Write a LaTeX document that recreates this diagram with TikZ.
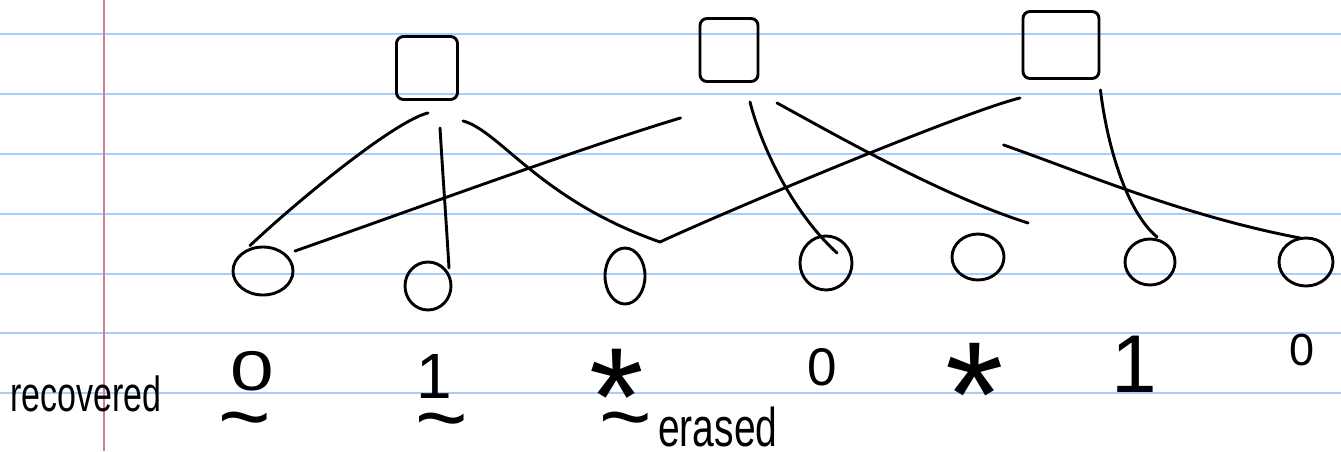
\documentclass[tikz,border=0pt]{standalone}
\usepackage{fontspec}
\setmainfont{Liberation Sans}
\usepackage{graphicx}
\usetikzlibrary{shapes.geometric,calc}
\definecolor{ruleblue}{RGB}{166,206,250}
\definecolor{marginred}{RGB}{214,122,152}
\tikzset{
  ink/.style={line width=2.9pt, line cap=round, line join=round, draw=black},
  sq/.style={ink, rectangle, rounded corners=7pt, inner sep=0pt},
  bit/.style={ink, ellipse, inner sep=0pt},
  lbl/.style={inner sep=0pt, anchor=base, text=black},
  ruled/.style={draw=ruleblue, line width=2pt},
}
\begin{document}
\begin{tikzpicture}[x=1pt,y=-1pt]
\useasboundingbox (0,0) rectangle (1341,451);
\fill[white] (0,0) rectangle (1341,451);
\foreach \yy in {34,94,154,214,274,333,393} \draw[ruled] (0,\yy) -- (1341,\yy);
\draw[marginred, line width=1.6pt] (104,0) -- (104,451);

% check nodes
\node[sq, minimum width=61pt, minimum height=63pt] (s1) at (427,68) {};
\node[sq, minimum width=58pt, minimum height=63pt] (s2) at (729,50) {};
\node[sq, minimum width=76pt, minimum height=67pt] (s3) at (1061,45) {};

% bit nodes
\node[bit, minimum width=60pt, minimum height=48pt] (c1) at (263,271) {};
\node[bit, minimum width=46pt, minimum height=48pt] (c2) at (428,286) {};
\node[bit, minimum width=40pt, minimum height=56pt] (c3) at (625,276) {};
\node[bit, minimum width=52pt, minimum height=54pt] (c4) at (826,263) {};
\node[bit, minimum width=52pt, minimum height=46pt] (c5) at (978,257) {};
\node[bit, minimum width=50pt, minimum height=46pt] (c6) at (1150,262) {};
\node[bit, minimum width=54pt, minimum height=48pt] (c7) at (1306,262) {};

% connectors
\draw[ink] ([shift={(1,12)}]s1.south) .. controls +(-33,8) and +(50,-47) .. ([shift={(-13,0)}]c1.north);
\draw[ink] ([shift={(13,27)}]s1.south) .. controls +(3,50) and +(-3,-50) .. ([shift={(21,-18)}]c2.center);
\draw[ink] ([shift={(36,20)}]s1.south) .. controls +(37,10) and +(-120,-42) .. ([shift={(35,-34)}]c3.center);
\draw[ink] ([shift={(-18,35)}]s2.south west) .. controls +(-100,30) and +(100,-35) .. ([shift={(32,-20)}]c1.center);
\draw[ink] ([shift={(21,19)}]s2.south) .. controls +(10,40) and +(-47,-43) .. ([shift={(11,-10)}]c4.center);
\draw[ink] ([shift={(48,20)}]s2.south) .. controls +(53,29) and +(-88,-28) .. ([shift={(50,-34)}]c5.center);
\draw[ink] ([shift={(-41,18)}]s3.south) .. controls +(-60,15) and +(60,-28) .. ([shift={(35,-34)}]c3.center);
\draw[ink] ([shift={(0,10)}]s3.south east) .. controls +(6,51) and +(-32,-27) .. ([shift={(7,-25)}]c6.center);
\draw[ink] ([shift={(-18,65)}]s3.south west) .. controls +(75,26) and +(-120,-23) .. ([shift={(-6,-24)}]c7.center);

% labels
\node[lbl, anchor=base west] (rec) at (10,411) {\scalebox{1}[1.45]{\fontsize{34}{34}\selectfont recovered}};
\node[lbl] (v1) at (252,390) {\scalebox{1.4}[1]{\fontsize{56}{56}\selectfont 0}};
\node[lbl] (v2) at (434,398) {\fontsize{64}{64}\selectfont 1};
\node[lbl] (v3) at (617,445) {\fontsize{140}{140}\selectfont *};
\node[lbl] (v4) at (822,385) {\fontsize{53}{53}\selectfont 0};
\node[lbl] (v5) at (975,446) {\fontsize{150}{150}\selectfont *};
\node[lbl] (v6) at (1134,392) {\fontsize{82}{82}\selectfont 1};
\node[lbl] (v7) at (1302,365) {\fontsize{45}{45}\selectfont 0};
\node[lbl] (t1) at (245,447) {\fontsize{90}{90}\selectfont \textasciitilde};
\node[lbl] (t2) at (442,448) {\fontsize{90}{90}\selectfont \textasciitilde};
\node[lbl] (t3) at (626,447) {\fontsize{90}{90}\selectfont \textasciitilde};
\node[lbl, anchor=base west] (era) at (658,446) {\scalebox{1}[1.4]{\fontsize{39}{39}\selectfont erased}};
\end{tikzpicture}
\end{document}
